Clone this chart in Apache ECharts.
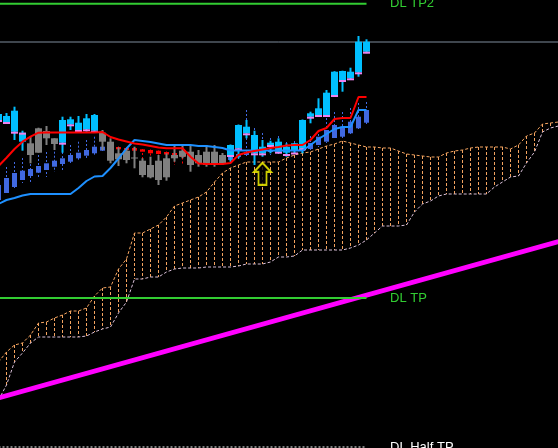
<!DOCTYPE html>
<html><head><meta charset="utf-8">
<script src="https://cdn.jsdelivr.net/npm/echarts@6/dist/echarts.min.js"></script>
<style>html,body{margin:0;padding:0;background:#000}#c{width:558px;height:448px}</style>
</head><body><div id="c"></div>
<script>
// bar index range shown (46 price bars + 25 bars of forward-shifted cloud)
const barRange = [0.1875, 69.9375];

// main price candles (level units, higher = higher price)
const candleOpen  = [328,326,316.3,306.3,304.7,319.7,317,309.7,305.3,323.7,318,318.7,317.3,315.3,306.3,294.7,297.3,290.5,287.3,283,287.3,289.7,293,297.3,296.3,293,296.3,296.3,293,293,299.7,314.7,294.7,294.7,303,296.3,295.3,298,299.7,331.3,333,333,353,368,369.7,375.7,396.3];
const candleClose = [334,332,337.3,315.3,293,295.3,309.7,304,328,328.7,325.3,329.7,333,306.3,287.3,288.7,288,289.5,273,270.7,268,270.7,289.7,291.3,283,284.7,283,284.7,284.7,303,323,321.3,313,301.3,305.3,306.3,301.3,304.7,328,334.7,339.7,355.3,376.3,377,376.3,406.3,406.3];
const candleLow   = [326,324,308,297.3,284.7,295.3,303,298,295.3,318,316.3,316.3,316.5,298,284.7,282,284.7,279.7,270.7,269.7,263,267.3,286.3,289.7,276.3,281.3,281.3,281.3,283,286.3,289.7,309.7,283,291.3,294.7,294.7,291.3,294.7,294.7,324.7,332,332,352.5,356.3,369,371.3,394.7];
const candleHigh  = [337,335,341.3,317.3,311.3,320.3,322,309.7,331.3,331.3,332,334,334,318,309.7,300.7,299.7,301.3,289.7,291.3,293,294.7,303,303,303,298,303,303,295,303.5,323.5,328,317.3,308,307.3,309.7,304.7,305,328.5,336.3,349.7,358,376.8,377.3,380.3,412,408.7];
const openMark    = [328,326,316.3,315.3,null,null,null,null,305.3,323.7,318,318.7,317.3,null,null,null,null,null,null,null,null,null,null,null,null,null,null,null,null,293,299.7,314.7,294.7,294.7,303,296.3,294,295.5,299.7,331.3,333,333,353,368,369.7,375.7,396.3];

// smoothed (second) candle series
const haOpen  = [248,255,261,268,272,275.3,278,281.3,284,286.3,289.7,292.3,294.7,297.3,301.5,301,300,300,298.7,298,297.3,296,295,294,292,291,290,289,288,288,291,293,295,295.5,296,296.5,297,297,297,299,303,306.3,310,311.3,314.7,319.7,325.3];
const haClose = [263,270,275,277.3,279,282,284.7,287.3,289.7,293,295.3,298,301.3,301.3,300,298.7,298,297.3,296.3,294.7,294,293.5,291.3,291,289,288,287,286,286,292,294,296,296.5,297,297.5,298,298.5,299,302,305,311.3,318,323,321.3,326.3,331.3,338];
const haLow   = [246,253,258,265,266,271,271,276,276,283,288,290,293,296,288,283,285,280,283,282,280,282,283,283,280,281,282,282,283,285,289,291,292,292,293,294,294,295,295,297,301,305,309,310,313.5,318.5,324];
const haHigh  = [268,281,286,290,288,293,296,296.3,300,303,306.3,308,311.3,315,302,301.5,300.5,300.5,299,298.5,297.5,296.5,295.5,294.5,293,292,291,290,289,303,322,338,320,315,310,312,306,307,320,312,318,330,336,336,340,345,346];

// Ichimoku lines
const tenkan = [282,290.3,299,306.3,311.3,315.3,315.5,315.5,315.5,315.5,315.5,315.5,315.5,316,311,308.5,306.5,304.5,303.5,302,300.5,299.7,299.7,299.7,291.3,284.5,284,284,284,285,293,295.5,297,298.5,300,301,302.5,303,303,308,317,320,329,330,330,351,351];
const kijun  = [244,248,250,252.5,254,254,254,254,254,254,260,267,271.5,272,280,289.5,299.5,308,307,306,304.5,303,303,303,303,302,302,301,300,297.5,297.5,297.5,297.5,297.5,297.5,297.5,297.5,297.5,297.5,303,309,314,319,321,321,338,338];
const spanA  = [86,96,103,105,113,125,126,130,133,137,137,140,152,160,161,179,189,215,215,219,223,231,242,245,248,251,256,266,275,280,283,286,286,286,286,286,290,293,295,296,299,302,304,307,305,303,301,301,300,300,297,294,293,292,291,291,295,297,298,300,301,301,301,301,299,303,312,315,324,325,326];
const spanB  = [48,63,86,95,105,111,111,111,111,111,111,112,116,119,121,135,146,169,169,171,171,176,179,180,180,180,181,181,181,181,182,184,184,184,186,191,191,192,198,198,198,198,198,198,200,203,208,215,222,222,222,223,236,244,247,252,254,254,254,254,254,254,261,266,271,272,285,296,316,320,322];

// levels and objects
const levelNames = ['DL TP2', 'DL TP', 'DL Half TP'];
const levelValues = [444.3, 150, 1];
const askLevel = 406;
const trendLine = [50.1, 206.4];
const arrowPoint = [33, 274.2];

const lastBar = candleOpen.length - 1;
const lastSlot = spanA.length - 1;

function candleRender(opt) {
  return function (params, api) {
    const x = api.value(0);
    const o = api.value(1), c = api.value(2), l = api.value(3), h = api.value(4);
    const pO = api.coord([x, o]), pC = api.coord([x, c]);
    const pL = api.coord([x, l]), pH = api.coord([x, h]);
    const up = c >= o;
    const col = up ? opt.up : opt.down;
    const cx = pO[0];
    const top = Math.min(pO[1], pC[1]), bot = Math.max(pO[1], pC[1]);
    const ch = [];
    ch.push({type: 'line', shape: {x1: cx, y1: pH[1], x2: cx, y2: pL[1]},
      style: {stroke: col, lineWidth: opt.wick, lineDash: opt.dash || null}});
    ch.push({type: 'rect', shape: {x: cx - opt.body / 2, y: top, width: opt.body, height: Math.max(1, bot - top)},
      style: {fill: col}});
    const m = api.value(5);
    if (opt.mark && m != null && !isNaN(m)) {
      const pM = api.coord([x, m]);
      ch.push({type: 'rect', shape: {x: cx - opt.body / 2, y: pM[1], width: opt.body, height: 2}, style: {fill: opt.mark}});
    }
    return {type: 'group', children: ch};
  };
}

const pairs = arr => arr.map((v, i) => [i, v]);
const mainData = candleOpen.map((v, i) => [i, v, candleClose[i], candleLow[i], candleHigh[i], openMark[i]]);
const haData = haOpen.map((v, i) => [i, v, haClose[i], haLow[i], haHigh[i]]);
const cloudData = spanA.map((v, i) => [i, v, spanB[i]]);

const levelColors = ['#32CD32', '#32CD32', '#FFFFFF'];
const levelSeries = levelNames.map((name, k) => ({
  type: 'line', name: name, z: 4, silent: true, symbol: 'none',
  data: [[0, levelValues[k]], [lastBar, levelValues[k]]],
  lineStyle: {color: levelColors[k], width: k === 2 ? 1 : 2, type: k === 2 ? [2, 2] : 'solid'},
  endLabel: {show: true, formatter: name, color: levelColors[k], fontSize: 13,
    fontFamily: 'Liberation Sans, Arial, sans-serif', distance: 23.5}
}));

const chart = echarts.init(document.getElementById('c'), null, {renderer: 'canvas'});
chart.setOption({
  backgroundColor: '#000000',
  animation: false,
  grid: {left: 0, top: 0, right: 0, bottom: 0},
  xAxis: {type: 'value', min: barRange[0], max: barRange[1], show: false, splitLine: {show: false}},
  yAxis: {type: 'value', min: 0, max: 448, show: false, splitLine: {show: false}},
  series: [
    {type: 'custom', z: 1, silent: true, data: cloudData, encode: {x: 0, y: [1, 2]},
      renderItem: function (params, api) {
        const x = api.value(0);
        const p1 = api.coord([x, api.value(1)]), p2 = api.coord([x, api.value(2)]);
        return {type: 'line', shape: {x1: p1[0], y1: p1[1], x2: p2[0], y2: p2[1]},
          style: {stroke: '#F4A460', lineWidth: 1, lineDash: [3, 2]}};
      }},
    {type: 'line', z: 1, silent: true, symbol: 'none', data: pairs(spanA),
      lineStyle: {color: '#F4A460', width: 1, type: [3, 2]}},
    {type: 'line', z: 1, silent: true, symbol: 'none', data: pairs(spanB),
      lineStyle: {color: '#D8BFD8', width: 1, type: [3, 2]}},
    {type: 'line', z: 2, silent: true, symbol: 'none', data: [[0, askLevel], [lastSlot, askLevel]],
      lineStyle: {color: '#7F8C9C', width: 1}},
    {type: 'line', z: 3, silent: true, symbol: 'none', data: [[0, trendLine[0]], [lastSlot, trendLine[1]]],
      lineStyle: {color: '#FF00FF', width: 5}},
    ...levelSeries,
    {type: 'custom', z: 5, silent: true, data: haData, encode: {x: 0, y: [1, 2, 3, 4]},
      renderItem: candleRender({up: '#4169E1', down: '#FF0000', body: 5, wick: 1, dash: [2, 2]})},
    {type: 'custom', z: 6, silent: true, data: mainData, encode: {x: 0, y: [1, 2, 3, 4]},
      renderItem: candleRender({up: '#00BFFF', down: '#808080', body: 7, wick: 2, mark: '#EE82EE'})},
    {type: 'line', z: 7, silent: true, symbol: 'none', data: pairs(kijun),
      lineStyle: {color: '#1E90FF', width: 2}},
    {type: 'line', z: 7, silent: true, symbol: 'none', data: pairs(tenkan),
      lineStyle: {color: '#FF0000', width: 2}},
    {type: 'scatter', z: 8, silent: true, data: [arrowPoint],
      symbol: 'path://M8.5,0 L17,9 L12.5,9 L12.5,22 L4.5,22 L4.5,9 L0,9 Z',
      symbolSize: [17, 22],
      itemStyle: {color: '#000000', borderColor: '#FFFF00', borderWidth: 2}}
  ]
});
</script>
</body></html>
